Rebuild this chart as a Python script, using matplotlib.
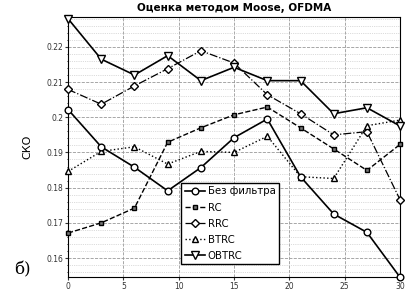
import matplotlib.pyplot as plt
from matplotlib.ticker import MultipleLocator

x = [0, 3, 6, 9, 12, 15, 18, 21, 24, 27, 30]
no_filter = [0.2022, 0.1916, 0.1858, 0.1791, 0.1857, 0.1942, 0.1995, 0.1831, 0.1725, 0.1673, 0.1545]
rc = [0.1671, 0.1700, 0.1742, 0.1929, 0.1970, 0.2007, 0.2029, 0.1970, 0.1910, 0.1849, 0.1923]
rrc = [0.2079, 0.2037, 0.2089, 0.2138, 0.2189, 0.2154, 0.2064, 0.2010, 0.1950, 0.1959, 0.1765]
btrc = [0.1846, 0.1903, 0.1916, 0.1867, 0.1903, 0.1900, 0.1946, 0.1831, 0.1826, 0.1976, 0.1992]
obtrc = [0.2280, 0.2165, 0.2120, 0.2175, 0.2104, 0.2142, 0.2104, 0.2104, 0.2010, 0.2027, 0.1975]

fig = plt.figure(figsize=(4.05, 2.92), dpi=100)
ax = fig.add_axes([0.168, 0.05, 0.82, 0.892])

ax.plot(x, no_filter, '-', color='black', lw=1.2, marker='o', ms=4.8, mfc='white', mec='black', label='Без фильтра', clip_on=False, zorder=5)
ax.plot(x, rc, '--', color='black', lw=1.0, marker='s', ms=3.5, mfc='#777777', mec='black', label='RC', clip_on=False, zorder=4)
ax.plot(x, rrc, '-.', color='black', lw=0.9, marker='D', ms=3.8, mfc='white', mec='black', label='RRC', clip_on=False, zorder=4)
ax.plot(x, btrc, ':', color='black', lw=1.0, marker='^', ms=5, mfc='white', mec='black', label='BTRC', clip_on=False, zorder=4)
ax.plot(x, obtrc, '-', color='black', lw=1.2, marker='v', ms=5.5, mfc='white', mec='black', label='OBTRC', clip_on=False, zorder=5)

ax.set_xlim(0, 30)
ax.set_ylim(0.1545, 0.2285)
ax.xaxis.set_major_locator(MultipleLocator(5))
ax.yaxis.set_major_locator(MultipleLocator(0.01))
ax.yaxis.set_minor_locator(MultipleLocator(0.002))
ax.grid(True, which='major', ls='--', color='#999999', lw=0.6)
ax.grid(True, which='minor', axis='y', ls=':', color='#bbbbbb', lw=0.5)
ax.tick_params(labelsize=5.5, length=2, pad=1.5, colors='#333333')
ax.tick_params(which='minor', length=1)
ax.set_yticks([0.16, 0.17, 0.18, 0.19, 0.2, 0.21, 0.22])
ax.set_yticklabels(['0.16', '0.17', '0.18', '0.19', '0.2', '0.21', '0.22'])

ax.set_title('Оценка методом Moose, OFDMA', fontsize=7.5, fontweight='bold', pad=4)
ax.set_ylabel('СКО', fontsize=8, labelpad=10)

ax.legend(loc='lower left', bbox_to_anchor=(0.34, 0.05), fontsize=7.3, frameon=True,
          fancybox=False, edgecolor='black', framealpha=1, handlelength=2.0,
          borderpad=0.35, labelspacing=0.6, handletextpad=0.3, borderaxespad=0)

fig.text(0.035, 0.06, 'б)', fontsize=12, family='DejaVu Serif')

fig.savefig('out.png', dpi=100)
